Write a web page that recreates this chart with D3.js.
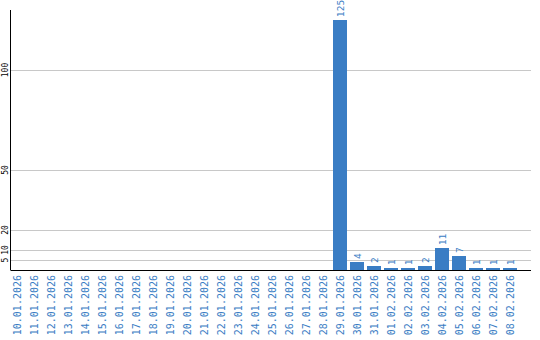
<!DOCTYPE html>
<html>
<head>
<meta charset="utf-8">
<script src="https://cdn.jsdelivr.net/npm/d3@7"></script>
<style>
  body { margin: 0; background: #fff; }
  svg { display: block; }
</style>
</head>
<body>
<svg width="540" height="340"></svg>
<script>
const days = ["10.01.2026", "11.01.2026", "12.01.2026", "13.01.2026", "14.01.2026", "15.01.2026",
  "16.01.2026", "17.01.2026", "18.01.2026", "19.01.2026", "20.01.2026", "21.01.2026",
  "22.01.2026", "23.01.2026", "24.01.2026", "25.01.2026", "26.01.2026", "27.01.2026",
  "28.01.2026", "29.01.2026", "30.01.2026", "31.01.2026", "01.02.2026", "02.02.2026",
  "03.02.2026", "04.02.2026", "05.02.2026", "06.02.2026", "07.02.2026", "08.02.2026"]
const counts = [0, 0, 0, 0, 0, 0, 0, 0, 0, 0, 0, 0, 0, 0, 0, 0, 0, 0, 0,
  125, 4, 2, 1, 1, 2, 11, 7, 1, 1, 1]
const yTicks = [5, 10, 20, 50, 100]

const svg = d3.select("svg")
const blue = "#3a7dc4"
const plotLeft = 10.5, plotRight = 531, plotTop = 10, plotBottom = 270

// step of 17px, bars start right at the axis
const x = d3.scaleBand()
  .domain(days)
  .range([10, 520])
  .paddingInner(0.18)
  .paddingOuter(0.09)
  .align(0)

const y = d3.scaleLinear()
  .domain([0, 130])
  .range([plotBottom, plotTop])

// grid lines
svg.append("g")
  .selectAll("line")
  .data(yTicks)
  .join("line")
  .attr("x1", plotLeft)
  .attr("x2", plotRight)
  .attr("y1", d => Math.round(y(d)) + 0.5)
  .attr("y2", d => Math.round(y(d)) + 0.5)
  .attr("stroke", "#c8c8c8")

// y tick labels, rotated
svg.append("g")
  .selectAll("text")
  .data(yTicks)
  .join("text")
  .attr("transform", d => `translate(8, ${y(d)}) rotate(-90)`)
  .attr("text-anchor", "middle")
  .attr("font-family", "DejaVu Sans Mono")
  .attr("font-size", 8)
  .attr("fill", "#000")
  .text(d => d)

// bars
const bars = days.map((d, i) => ({ day: d, value: counts[i] })).filter(d => d.value > 0)

svg.append("g")
  .selectAll("rect")
  .data(bars)
  .join("rect")
  .attr("x", d => Math.round(x(d.day)))
  .attr("y", d => y(d.value))
  .attr("width", Math.round(x.bandwidth()))
  .attr("height", d => plotBottom - y(d.value))
  .attr("fill", blue)

// value labels
svg.append("g")
  .selectAll("text")
  .data(bars)
  .join("text")
  .attr("transform", d => `translate(${x(d.day) + x.bandwidth() / 2 + 4}, ${y(d.value) - 3}) rotate(-90)`)
  .attr("font-family", "DejaVu Sans")
  .attr("font-size", 9)
  .attr("fill", blue)
  .text(d => d.value)

// axes lines
svg.append("line")
  .attr("x1", plotLeft).attr("x2", plotLeft)
  .attr("y1", plotTop).attr("y2", plotBottom)
  .attr("stroke", "#000")
svg.append("line")
  .attr("x1", plotLeft).attr("x2", plotRight)
  .attr("y1", plotBottom + 0.5).attr("y2", plotBottom + 0.5)
  .attr("stroke", "#000")

// x labels
svg.append("g")
  .selectAll("text")
  .data(days)
  .join("text")
  .attr("transform", d => `translate(${x(d) + x.bandwidth() / 2 + 4}, 275) rotate(-90)`)
  .attr("text-anchor", "end")
  .attr("font-family", "DejaVu Sans Mono")
  .attr("font-size", 10)
  .attr("fill", blue)
  .text(d => d)
</script>
</body>
</html>
